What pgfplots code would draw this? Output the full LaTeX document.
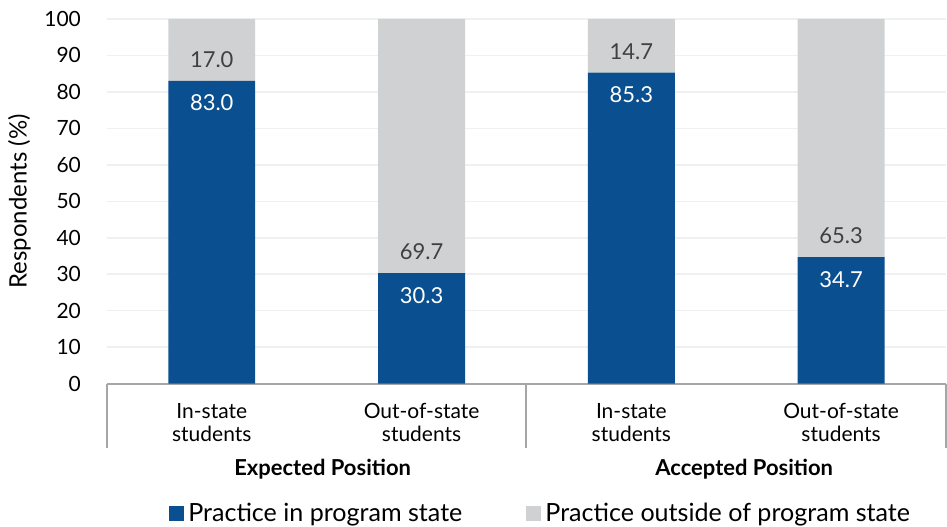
\documentclass[border=0pt]{standalone}
\usepackage{fontspec}
\setmainfont{Lato}
\usepackage{pgfplots}
\usepackage{pgfplotstable}
\pgfplotsset{compat=1.18}
\definecolor{dblue}{HTML}{0A4F8F}
\definecolor{lgray}{HTML}{D0D1D3}
\definecolor{axgray}{HTML}{A6A6A6}
\definecolor{gridc}{HTML}{F0F0F0}
\definecolor{txtgray}{HTML}{404040}
\pgfplotstableread{
x in out inl outl
0 83.0 17.0 83.0 17.0
1 30.3 69.7 30.3 69.7
2 85.3 14.7 85.3 14.7
3 34.7 65.3 34.7 65.3
}\datatable
\begin{document}
\begin{tikzpicture}
\begin{axis}[
  name=ax,
  scale only axis, width=420pt, height=182.5pt,
  ybar stacked, bar width=43.5pt,
  xmin=-0.5, xmax=3.5, ymin=0, ymax=100,
  ytick={0,10,...,100},
  ymajorgrids, grid style={gridc, line width=0.8pt},
  axis x line*=bottom, axis y line*=left,
  y axis line style={draw=none, -},
  x axis line style={axgray, line width=1pt, -},
  ytick style={draw=none},
  xtick={-0.5,1.5,3.5}, xticklabels={},
  xtick style={axgray, line width=1pt},
  tick align=outside, major tick length=32pt,
  extra x ticks={0,1,2,3},
  extra x tick labels={In-state\\students, Out-of-state\\students, In-state\\students, Out-of-state\\students},
  extra x tick style={major tick length=0pt, grid=none},
  xticklabel style={align=center, font=\fontsize{10.5}{11.5}\selectfont, yshift=-6.5pt},
  yticklabel style={font=\fontsize{10.5}{12}\selectfont, xshift=22.5pt},
  /pgf/number format/assume math mode=true,
  ylabel={Respondents (\%)},
  ylabel style={font=\fontsize{12}{14}\selectfont},
  legend style={at={(0.518,-0.356)}, anchor=center, draw=none, legend columns=2,
    inner sep=0pt, outer sep=0pt,
    font=\fontsize{12.55}{15}\selectfont, /tikz/every even column/.append style={column sep=30pt}},
  legend image code/.code={\fill[#1] (0pt,-3.8pt) rectangle (7.6pt,3.8pt);},
  clip=false,
]
\addplot[fill=dblue, draw=none] table[x=x, y=in] {\datatable};
\addlegendentry{Practice in program state}
\addplot[fill=lgray, draw=none] table[x=x, y=out] {\datatable};
\addlegendentry{Practice outside of program state}
\node[font=\bfseries\fontsize{11}{13}\selectfont] at (axis cs:0.5,0) [yshift=-43pt, xshift=3pt] {Expected Position};
\node[font=\bfseries\fontsize{11}{13}\selectfont] at (axis cs:2.5,0) [yshift=-43pt, xshift=4pt] {Accepted Position};
\end{axis}
\begin{axis}[
  scale only axis, width=420pt, height=182.5pt,
  xmin=-0.5, xmax=3.5, ymin=0, ymax=100, hide axis, clip=false,
]
\addplot[only marks, mark=*, mark size=0pt, point meta=explicit symbolic,
  nodes near coords, nodes near coords style={anchor=north, text=white, yshift=-3.5pt, font=\fontsize{11}{13}\selectfont}]
  table[x=x, y=in, meta=inl] {\datatable};
\addplot[only marks, mark=*, mark size=0pt, point meta=explicit symbolic,
  nodes near coords, nodes near coords style={anchor=south, text=txtgray, yshift=3pt, font=\fontsize{11}{13}\selectfont}]
  table[x=x, y=in, meta=outl] {\datatable};
\end{axis}
\pgfresetboundingbox
\path ([xshift=-53.5pt, yshift=9.5pt]ax.north west) rectangle ([xshift=0.5pt, yshift=-71.5pt]ax.south east);
\end{tikzpicture}
\end{document}
